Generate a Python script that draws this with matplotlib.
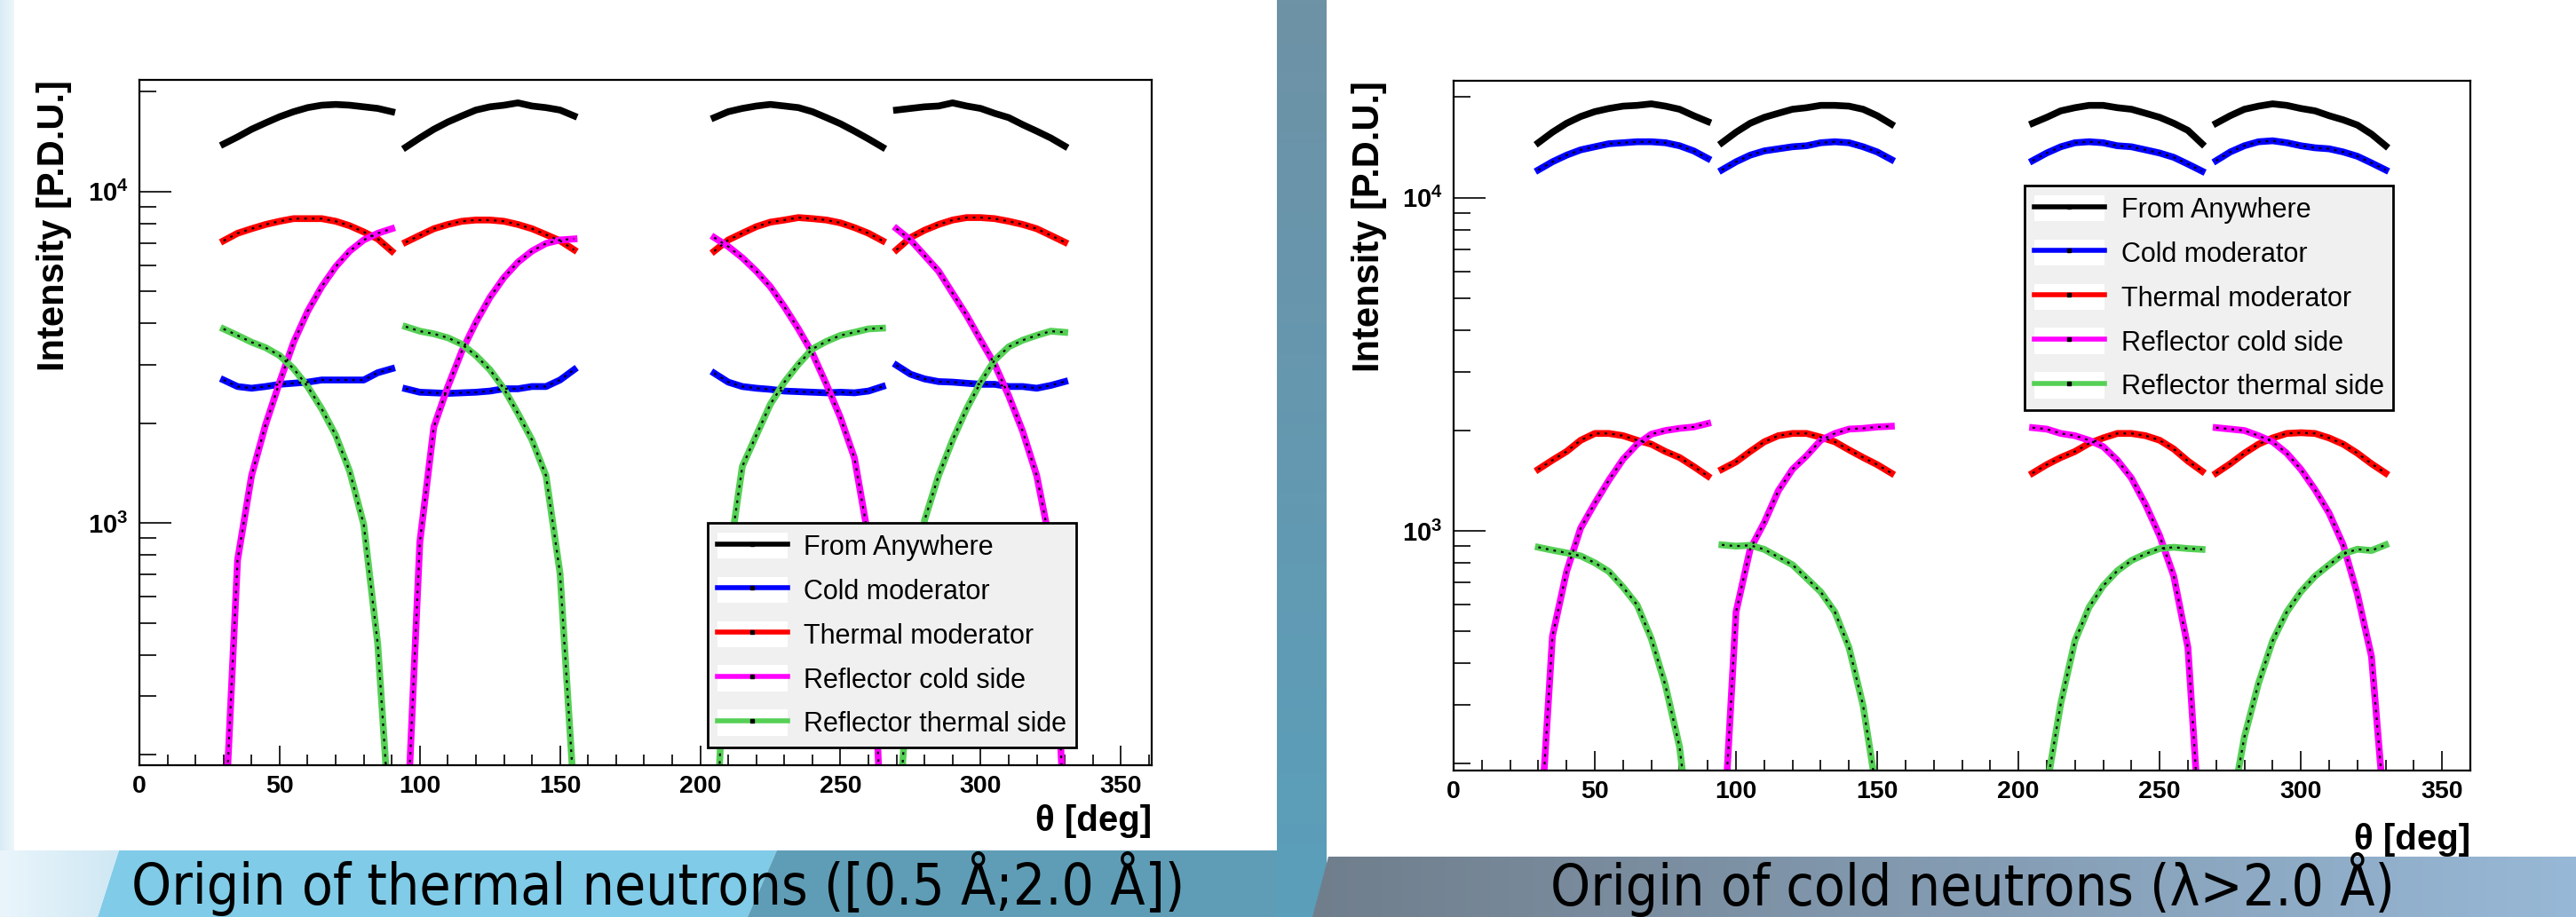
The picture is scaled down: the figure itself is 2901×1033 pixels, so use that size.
import matplotlib
matplotlib.use('Agg')
import matplotlib.pyplot as plt
import numpy as np
from matplotlib.patches import Polygon, Patch
from matplotlib.lines import Line2D
from matplotlib.colors import LinearSegmentedColormap
from matplotlib.legend_handler import HandlerTuple
from matplotlib.ticker import LogLocator, MultipleLocator, FuncFormatter, NullFormatter

plt.rcParams['font.family'] = ['Liberation Sans', 'DejaVu Sans']
plt.rcParams['mathtext.fontset'] = 'custom'
plt.rcParams['mathtext.rm'] = 'Liberation Sans'
plt.rcParams['mathtext.bf'] = 'Liberation Sans:bold'

# ---------------- data ----------------
# four angular windows, one value every 5 deg
SEG_START = [30, 95, 205, 270]
THETA = [np.arange(s, s + 61, 5) for s in SEG_START]

LABELS = ['From Anywhere', 'Cold moderator', 'Thermal moderator',
          'Reflector cold side', 'Reflector thermal side']
COLORS = ['#000000', '#0000ff', '#ff0000', '#ff00ff', '#55d055']

# thermal neutrons [0.5 A; 2.0 A]
th_anywhere = [[13900, 14600, 15400, 16100, 16800, 17400, 17900, 18200, 18300, 18200, 18000, 17800, 17400],
               [13600, 14500, 15400, 16200, 16900, 17600, 18000, 18200, 18500, 18100, 17900, 17600, 16900],
               [16700, 17400, 17800, 18100, 18300, 18100, 17900, 17400, 16700, 16000, 15200, 14400, 13600],
               [17600, 17800, 18000, 18100, 18500, 18100, 17800, 17200, 16700, 15900, 15200, 14500, 13700]]
th_cold_mod = [[2700, 2580, 2550, 2580, 2620, 2640, 2660, 2700, 2700, 2700, 2700, 2840, 2920],
               [2540, 2480, 2470, 2460, 2470, 2480, 2500, 2540, 2540, 2580, 2580, 2700, 2900],
               [2830, 2660, 2580, 2550, 2530, 2500, 2490, 2480, 2470, 2480, 2470, 2500, 2580],
               [2990, 2810, 2720, 2670, 2660, 2640, 2620, 2620, 2580, 2580, 2550, 2600, 2670]]
th_therm_mod = [[7100, 7480, 7720, 7950, 8130, 8280, 8280, 8280, 8130, 7880, 7550, 7190, 6610],
                [7030, 7370, 7720, 7950, 8130, 8200, 8200, 8130, 7950, 7720, 7410, 7100, 6670],
                [6610, 7140, 7480, 7830, 8080, 8200, 8340, 8280, 8200, 8040, 7780, 7480, 7100],
                [6670, 7260, 7640, 7950, 8200, 8340, 8340, 8280, 8130, 7950, 7720, 7370, 7030]]
th_refl_cold = [[100, 773, 1390, 1980, 2660, 3510, 4350, 5160, 5930, 6610, 7140, 7480, 7720],
                [100, 875, 1950, 2580, 3300, 4030, 4790, 5500, 6120, 6610, 6970, 7140, 7190],
                [7260, 6820, 6310, 5750, 5160, 4490, 3850, 3250, 2620, 2080, 1570, 900, 100],
                [7720, 7140, 6410, 5750, 4930, 4230, 3560, 3010, 2420, 1890, 1390, 850, 120]]
th_refl_therm = [[3850, 3680, 3510, 3380, 3200, 2920, 2580, 2210, 1840, 1430, 990, 431, 100],
                 [3910, 3790, 3720, 3620, 3460, 3200, 2900, 2540, 2140, 1780, 1390, 705, 150],
                 [80, 750, 1480, 1840, 2280, 2660, 3010, 3350, 3530, 3680, 3760, 3850, 3870],
                 [100, 430, 1020, 1390, 1780, 2210, 2660, 3100, 3400, 3560, 3680, 3790, 3760]]

# cold neutrons (lambda > 2.0 A)
co_anywhere = [[14600, 15700, 16700, 17500, 18100, 18500, 18800, 18900, 19100, 18800, 18400, 17600, 16900],
               [14600, 15700, 16700, 17400, 17900, 18400, 18600, 18900, 18900, 18800, 18400, 17600, 16600],
               [16700, 17400, 18200, 18600, 18900, 18900, 18600, 18400, 17900, 17400, 16700, 15900, 14500],
               [16700, 17600, 18400, 18800, 19100, 18900, 18500, 18200, 17600, 17100, 16500, 15500, 14300]]
co_cold_mod = [[12100, 12800, 13400, 13900, 14200, 14500, 14600, 14700, 14700, 14600, 14300, 13800, 13100],
               [12100, 12800, 13400, 13800, 14000, 14200, 14300, 14600, 14700, 14600, 14200, 13700, 13000],
               [12900, 13600, 14200, 14600, 14700, 14600, 14300, 14200, 13900, 13600, 13200, 12600, 12000],
               [12900, 13700, 14300, 14700, 14800, 14600, 14300, 14100, 14000, 13700, 13300, 12700, 12100]]
co_therm_mod = [[1530, 1630, 1730, 1870, 1960, 1960, 1930, 1870, 1820, 1730, 1660, 1560, 1460],
                [1530, 1610, 1730, 1850, 1930, 1960, 1960, 1910, 1850, 1750, 1660, 1580, 1490],
                [1490, 1580, 1660, 1730, 1830, 1900, 1960, 1960, 1930, 1870, 1760, 1620, 1510],
                [1490, 1590, 1710, 1820, 1900, 1960, 1970, 1960, 1900, 1820, 1710, 1590, 1490]]
co_refl_cold = [[100, 483, 755, 1020, 1210, 1420, 1640, 1820, 1950, 2000, 2030, 2050, 2100],
                [100, 571, 881, 1060, 1320, 1530, 1680, 1870, 1960, 2020, 2030, 2050, 2060],
                [2040, 2020, 1960, 1930, 1870, 1790, 1630, 1440, 1200, 967, 731, 447, 100],
                [2040, 2020, 2000, 1930, 1850, 1710, 1530, 1330, 1130, 908, 647, 420, 130]]
co_refl_therm = [[893, 875, 859, 841, 802, 755, 678, 599, 475, 344, 225, 100, 80],
                 [908, 900, 905, 880, 834, 791, 721, 656, 571, 447, 299, 160, 80],
                 [80, 170, 304, 468, 590, 684, 759, 815, 853, 885, 893, 885, 880],
                 [80, 140, 241, 349, 468, 571, 657, 731, 791, 853, 881, 873, 908]]

W, H = 2901, 1033
fig = plt.figure(figsize=(W / 100, H / 100), dpi=100)

# ---------------- slide background ----------------
bg = fig.add_axes([0, 0, 1, 1], zorder=-10)
bg.axis('off')


def flat(verts, col):
    bg.add_patch(Polygon(verts, closed=True, facecolor=col, edgecolor='none', zorder=1))


def grad(verts, c0, c1, horizontal=True):
    poly = Polygon(verts, closed=True, facecolor='none', edgecolor='none')
    bg.add_patch(poly)
    xs = [v[0] for v in verts]
    ys = [v[1] for v in verts]
    g = np.linspace(0, 1, 256)
    g = g[None, :] if horizontal else g[:, None]
    cm = LinearSegmentedColormap.from_list('g', [c0, c1])
    im = bg.imshow(g, cmap=cm, extent=(min(xs), max(xs), max(ys), min(ys)), aspect='auto', zorder=2)
    im.set_clip_path(poly)


flat([(0, 0), (W, 0), (W, H), (0, H)], '#e3f0f7')
grad([(0, 0), (16, 0), (16, 958), (0, 958)], '#d9ebf5', '#eef6fb')
flat([(16, 0), (1438, 0), (1438, 958), (16, 958)], 'white')
grad([(1438, 0), (1494, 0), (1494, H), (1438, H)], '#6e92a6', '#5a9fbb', horizontal=False)
grad([(0, 958), (134, 958), (110, H), (0, H)], '#eaf5fb', '#cfe8f4')
flat([(134, 958), (875, 958), (842, H), (110, H)], '#80cbe7')
flat([(875, 958), (1438, 958), (1438, H), (842, H)], '#5f9db6')
flat([(1494, 0), (W, 0), (W, 965), (1494, 965)], 'white')
grad([(1496, 965), (W, 965), (W, H), (1478, H)], '#707e8c', '#97b8d6')
bg.set_xlim(0, W)
bg.set_ylim(H, 0)


# ---------------- panels ----------------
def px_axes(x0, x1, y0, y1):
    return fig.add_axes([x0 / W, 1 - y1 / H, (x1 - x0) / W, (y1 - y0) / H])


def draw_panel(ax, series, ylim, xmax, leg_xy):
    for vals, col in zip(series, COLORS):
        for th, v in zip(THETA, vals):
            ax.plot(th, v, color=col, lw=5.5, solid_joinstyle='round', zorder=2)
            ax.plot(th, v, color='k', lw=1.6, dashes=(1.3, 2.6), zorder=2.5)
    ax.set_yscale('log')
    ax.set_xlim(0, xmax)
    ax.set_ylim(*ylim)
    ax.xaxis.set_major_locator(MultipleLocator(50))
    ax.xaxis.set_minor_locator(MultipleLocator(10))
    ax.yaxis.set_major_locator(LogLocator(base=10))
    ax.yaxis.set_minor_locator(LogLocator(base=10, subs=np.arange(2, 10)))
    ax.yaxis.set_major_formatter(FuncFormatter(lambda v, p: r'$\mathbf{10^{%d}}$' % round(np.log10(v))))
    ax.yaxis.set_minor_formatter(NullFormatter())
    ax.tick_params(which='both', direction='in', top=False, right=False, width=1.2, color='k')
    ax.tick_params(axis='x', which='major', length=16, pad=8, labelsize=20.5)
    ax.tick_params(axis='x', which='minor', length=8.5)
    ax.tick_params(axis='y', which='major', length=26, pad=9, labelsize=21)
    ax.tick_params(axis='y', which='minor', length=14)
    for lab in ax.get_xticklabels():
        lab.set_fontweight('bold')
    for sp in ax.spines.values():
        sp.set_linewidth(1.6)

    # ROOT-style legend: white box behind each line sample, black point in the middle
    handles = [(Patch(facecolor='white', edgecolor='none'),
                Line2D([], [], color=c, lw=4, marker='s', ms=2.5, mfc='k', mec='k'))
               for c in COLORS]
    leg = ax.legend(handles, LABELS, loc='lower left', bbox_to_anchor=leg_xy, borderaxespad=0,
                    fontsize=22, frameon=True, fancybox=False, edgecolor='black',
                    facecolor='#f0f0f0', framealpha=1, handlelength=2.6, handleheight=1.1,
                    labelspacing=0.58, borderpad=0.35, handletextpad=0.6,
                    handler_map={tuple: HandlerTuple(ndivide=1, pad=0)})
    leg.get_frame().set_linewidth(2)
    leg.set_zorder(5)


ax1 = px_axes(157, 1297, 90, 862)
draw_panel(ax1, [th_anywhere, th_cold_mod, th_therm_mod, th_refl_cold, th_refl_therm],
           (186, 21700), 361, (0.5614, 0.0259))
ax1.set_ylabel('Intensity [P.D.U.]', fontsize=30, fontweight='bold', loc='top')
ax1.yaxis.set_label_coords(-0.0667, 1.0)
ax1.set_xlabel(r'θ [deg]', fontsize=29, fontweight='bold', loc='right')
ax1.xaxis.set_label_coords(1.0, -0.057)

ax2 = px_axes(1637, 2782, 91, 868)
draw_panel(ax2, [co_anywhere, co_cold_mod, co_therm_mod, co_refl_cold, co_refl_therm],
           (191, 22400), 360, (0.5616, 0.5225))
ax2.set_ylabel('Intensity [P.D.U.]', fontsize=30, fontweight='bold', loc='top')
ax2.yaxis.set_label_coords(-0.0655, 1.0)
ax2.set_xlabel(r'θ [deg]', fontsize=29, fontweight='bold', loc='right')
ax2.xaxis.set_label_coords(1.0, -0.076)

# ---------------- captions ----------------
fig.text(148 / W, 1 - 1019 / H, 'Origin of thermal neutrons ([0.5 Å;2.0 Å])',
         fontsize=46, family=['DejaVu Sans'], fontstretch='condensed',
         va='baseline', ha='left', color='black')
fig.text(1746 / W, 1 - 1020 / H, 'Origin of cold neutrons (λ>2.0 Å)',
         fontsize=46, family=['DejaVu Sans'], fontstretch='condensed',
         va='baseline', ha='left', color='black')

fig.savefig('out.png', dpi=100)
